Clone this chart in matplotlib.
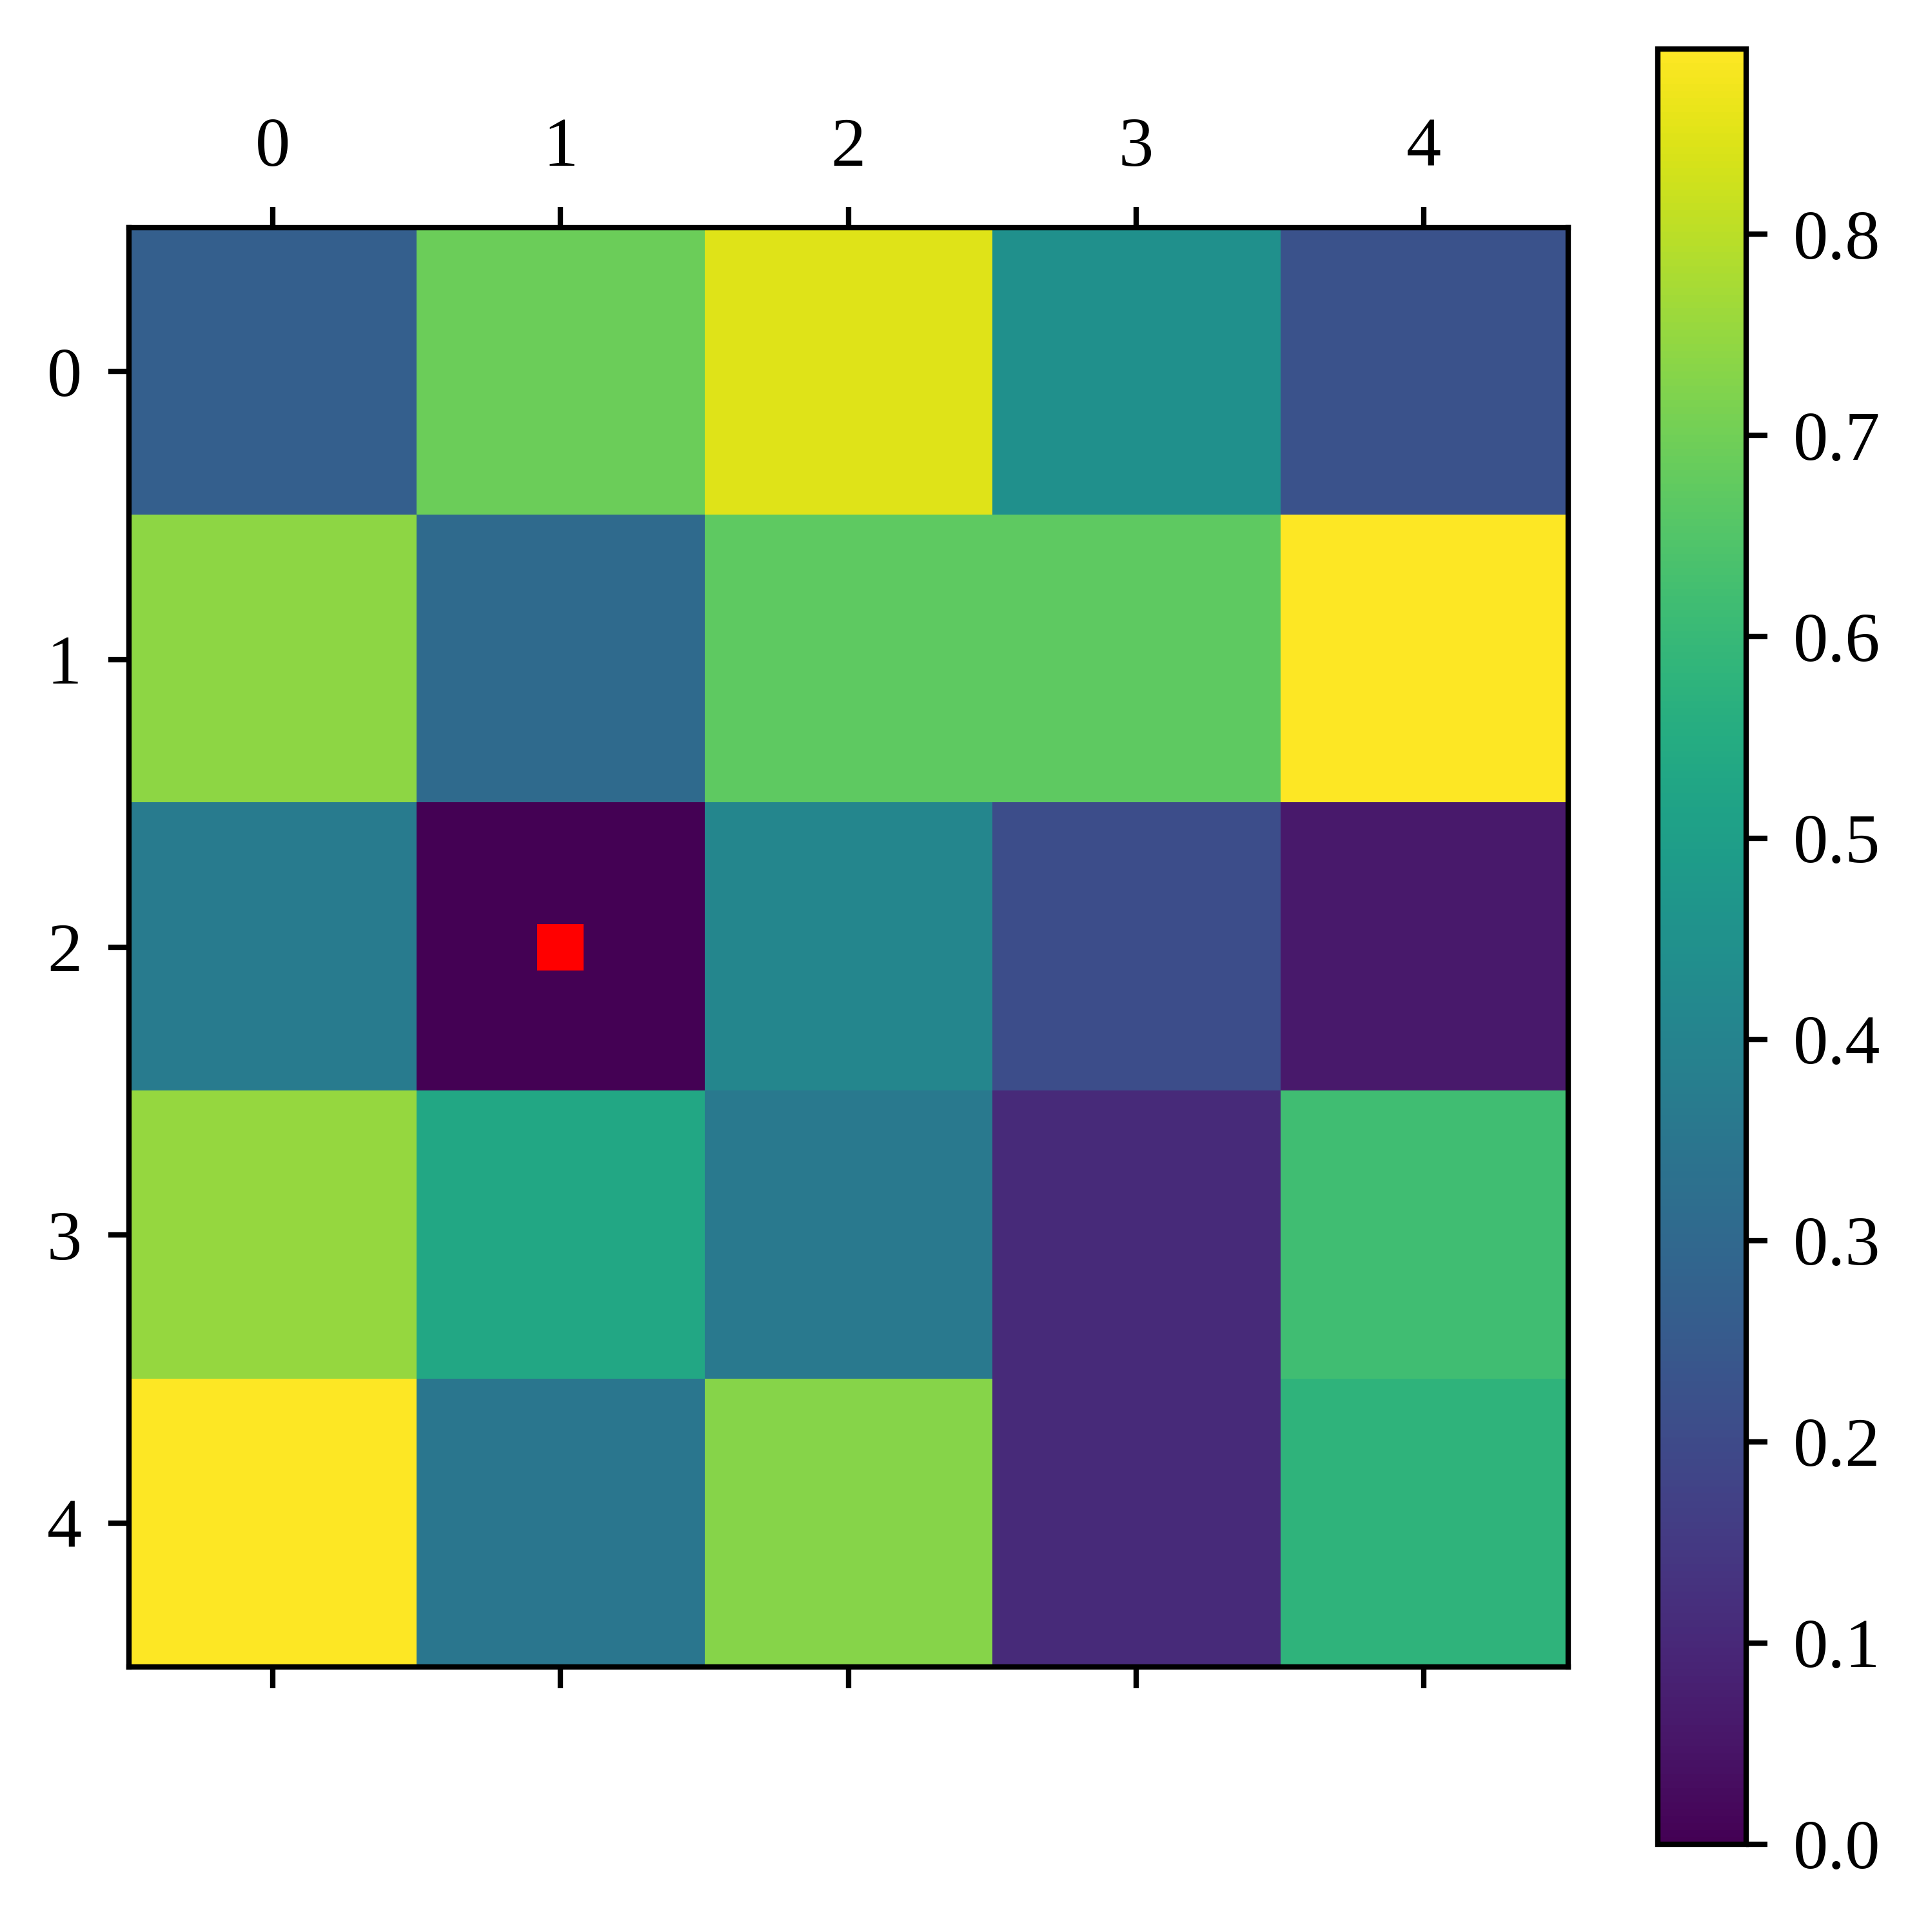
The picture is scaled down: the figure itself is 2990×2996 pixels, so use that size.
import matplotlib
matplotlib.use("Agg")
import matplotlib.pyplot as plt
import numpy as np
from matplotlib.patches import Rectangle

plt.rcParams["font.family"] = ["Liberation Serif", "DejaVu Serif"]
plt.rcParams["font.size"] = 13

# grid values
row0 = [0.27, 0.69, 0.85, 0.446, 0.223]
row1 = [0.74, 0.31, 0.67, 0.67, 0.892]
row2 = [0.37, 0.0, 0.41, 0.21, 0.06]
row3 = [0.75, 0.535, 0.36, 0.105, 0.62]
row4 = [0.89, 0.35, 0.73, 0.105, 0.58]
grid = np.array([row0, row1, row2, row3, row4])

# marked cell (the minimum)
mark_col, mark_row = 1, 2
ticks = [0, 1, 2, 3, 4]
cbar_ticks = [0.0, 0.1, 0.2, 0.3, 0.4, 0.5, 0.6, 0.7, 0.8]

fig = plt.figure(figsize=(2990 / 600, 2996 / 600), dpi=600)
ax = fig.add_axes([0.0666, 0.1372, 0.7468, 0.745])
cax = fig.add_axes([0.860, 0.0454, 0.0458, 0.9292])

im = ax.matshow(grid, cmap="viridis")
ax.add_patch(Rectangle((mark_col - 0.08, mark_row - 0.08), 0.16, 0.16,
                       color="red", linewidth=0))
ax.set_xticks(ticks)
ax.set_yticks(ticks)
ax.tick_params(length=3.9, width=1.0, pad=4.8)
for s in ax.spines.values():
    s.set_linewidth(1.0)

cb = fig.colorbar(im, cax=cax, ticks=cbar_ticks)
cb.outline.set_linewidth(1.0)
cax.tick_params(length=3.9, width=1.0, pad=4.8)

fig.savefig("out.png", dpi=600)
